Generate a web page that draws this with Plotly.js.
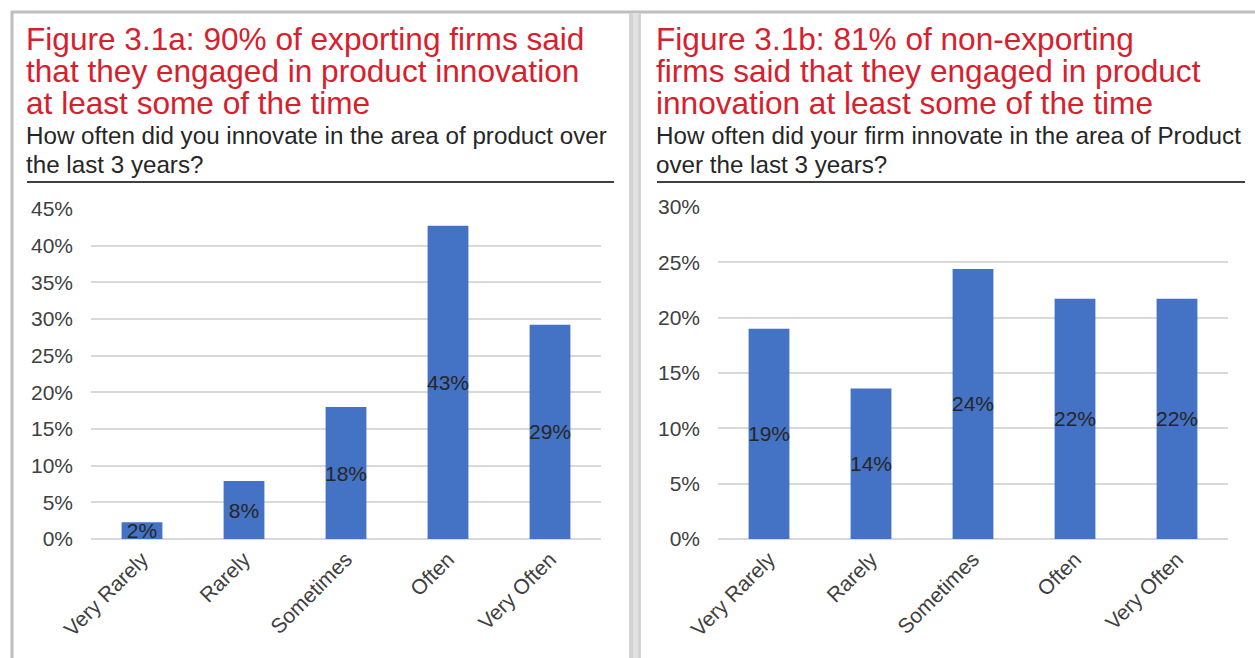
<!DOCTYPE html>
<html>
<head>
<meta charset="utf-8">
<script src="https://cdn.plot.ly/plotly-3.0.1.min.js"></script>
<style>
html,body{margin:0;padding:0;background:#fff;overflow:hidden;}
#chart{width:1255px;height:658px;}
</style>
</head>
<body>
<div id="chart"></div>
<script>
const categories = ['Very Rarely', 'Rarely', 'Sometimes', 'Often', 'Very Often'];
const exportingValues = [2.3, 7.9, 18.0, 42.7, 29.2];
const exportingLabels = ['2%', '8%', '18%', '43%', '29%'];
const nonExportingValues = [19.0, 13.6, 24.4, 21.7, 21.7];
const nonExportingLabels = ['19%', '14%', '24%', '22%', '22%'];
const leftTitleLines = ['Figure 3.1a: 90% of exporting firms said', 'that they engaged in product innovation', 'at least some of the time'];
const leftSubtitleLines = ['How often did you innovate in the area of product over', 'the last 3 years?'];
const rightTitleLines = ['Figure 3.1b: 81% of non-exporting', 'firms said that they engaged in product', 'innovation at least some of the time'];
const rightSubtitleLines = ['How often did your firm innovate in the area of Product', 'over the last 3 years?'];
const leftYTicks = [0, 5, 10, 15, 20, 25, 30, 35, 40, 45];
const rightYTicks = [0, 5, 10, 15, 20, 25, 30];

const W = 1255, H = 658;
const px = v => v / W;
const py = v => 1 - v / H;

const FONT = 'Liberation Sans, Arial, sans-serif';
const BAR = '#4472C4';
const GRID = '#d9d9d9';

function barTrace(vals, labels, xa, ya) {
  return {
    type: 'bar', x: categories, y: vals, xaxis: xa, yaxis: ya,
    marker: {color: BAR, line: {width: 0}},
    text: labels, textposition: 'inside', insidetextanchor: 'middle',
    constraintext: 'none', textangle: 0,
    textfont: {family: FONT, size: 21, color: '#262626'},
    hoverinfo: 'skip', showlegend: false, cliponaxis: false
  };
}

const data = [
  barTrace(exportingValues, exportingLabels, 'x', 'y'),
  barTrace(nonExportingValues, nonExportingLabels, 'x2', 'y2')
];

function xAxis(domain, anchor) {
  return {
    domain: domain, anchor: anchor, type: 'category',
    tickangle: -45, showgrid: false, zeroline: false, showline: false,
    ticks: '', ticklabelstandoff: 3,
    tickfont: {family: FONT, size: 21, color: '#404040'}, fixedrange: true
  };
}
function yAxis(domain, anchor, ticks) {
  return {
    domain: domain, anchor: anchor, range: [0, ticks[ticks.length - 1]],
    tickvals: ticks, ticktext: ticks.map(t => t + '%'),
    showgrid: true, gridcolor: GRID, gridwidth: 2,
    zeroline: true, zerolinecolor: GRID, zerolinewidth: 2,
    showline: false, ticks: '', ticklabelstandoff: 17,
    tickfont: {family: FONT, size: 21, color: '#404040'}, fixedrange: true
  };
}

const annotations = [];
function addLines(lines, x0, yCenters, size, color) {
  lines.forEach((t, i) => annotations.push({
    xref: 'paper', yref: 'paper', x: px(x0), y: py(yCenters[i]),
    xanchor: 'left', yanchor: 'middle', text: t, showarrow: false,
    font: {family: FONT, size: size, color: color}
  }));
}
addLines(leftTitleLines, 24, [39, 71, 103], 31.6, '#D7202C');
addLines(leftSubtitleLines, 24, [135, 164], 24.2, '#262626');
addLines(rightTitleLines, 654, [39, 71, 103], 31.6, '#D7202C');
addLines(rightSubtitleLines, 654, [135, 164], 24.2, '#262626');

const shapes = [
  {type: 'line', xref: 'paper', yref: 'paper', x0: px(11), x1: 1, y0: py(12), y1: py(12), line: {color: '#bfbfbf', width: 3}},
  {type: 'line', xref: 'paper', yref: 'paper', x0: px(12), x1: px(12), y0: py(11), y1: 0, line: {color: '#bfbfbf', width: 3}},
  {type: 'rect', xref: 'paper', yref: 'paper', x0: px(629), x1: px(641), y0: 0, y1: py(13), fillcolor: '#d3d3d3', line: {width: 0}},
  {type: 'rect', xref: 'paper', yref: 'paper', x0: px(633), x1: px(638), y0: 0, y1: py(13), fillcolor: '#e2e2e2', line: {width: 0}},
  {type: 'line', xref: 'paper', yref: 'paper', x0: px(27), x1: px(614), y0: py(182), y1: py(182), line: {color: '#404040', width: 2}},
  {type: 'line', xref: 'paper', yref: 'paper', x0: px(657), x1: px(1245), y0: py(182), y1: py(182), line: {color: '#404040', width: 2}}
];

const layout = {
  width: W, height: H,
  margin: {l: 0, r: 0, t: 0, b: 0},
  paper_bgcolor: '#ffffff', plot_bgcolor: 'rgba(0,0,0,0)',
  bargap: 0.6, showlegend: false,
  xaxis: xAxis([px(91), px(601)], 'y'),
  yaxis: yAxis([py(539), py(209)], 'x', leftYTicks),
  xaxis2: xAxis([px(718), px(1228)], 'y2'),
  yaxis2: yAxis([py(539), py(207)], 'x2', rightYTicks),
  annotations: annotations,
  shapes: shapes,
  font: {family: FONT}
};

Plotly.newPlot('chart', data, layout, {displayModeBar: false, staticPlot: true});
</script>
</body>
</html>
